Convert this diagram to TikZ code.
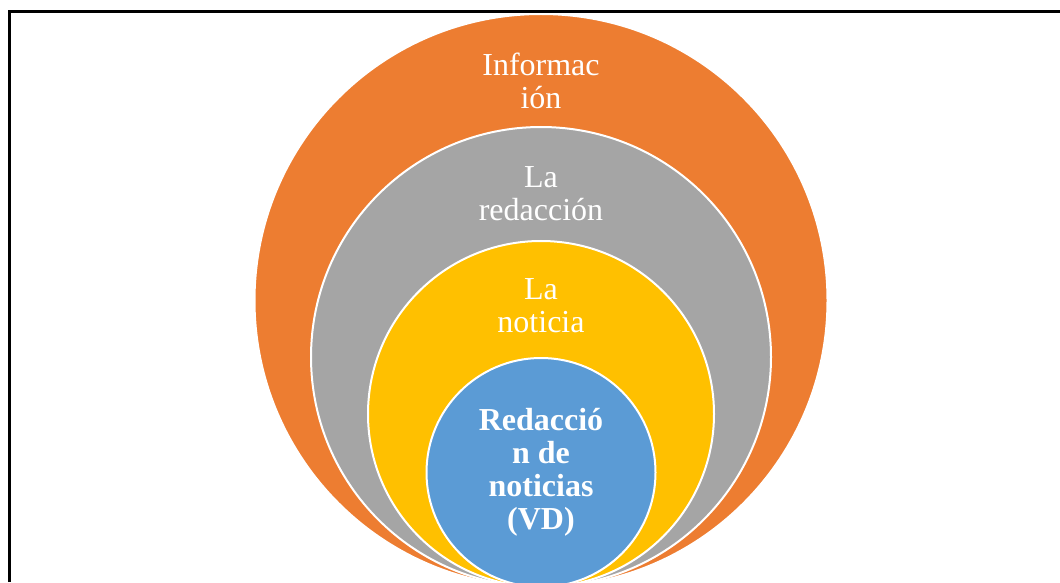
\documentclass[tikz,border=0pt]{standalone}
\usepackage{fontspec}
\setmainfont{Liberation Serif}
\usepackage{tikz}
\usetikzlibrary{positioning}
\definecolor{infoorange}{HTML}{ED7D31}
\definecolor{redacgray}{HTML}{A5A5A5}
\definecolor{noticiayellow}{HTML}{FFC000}
\definecolor{vdblue}{HTML}{5B9BD5}
\tikzset{
x=1pt, y=1pt, % one unit is one pixel of the layout
ring/.style={circle, fill=#1, draw=white, line width=2pt, inner sep=0pt, outer sep=0pt, anchor=south}, % the nested circles, all touching at the bottom
ringtext/.style={text=white, align=center, inner sep=0pt, font=\fontsize{32}{33}\selectfont}, % the label inside each circle
}

\begin{document}
\begin{tikzpicture}

            \useasboundingbox (0,0) rectangle (1060,582);
            \clip (0,0) rectangle (1060,582);
            \coordinate (bottom) at (541,-5);

            \node[ring=infoorange, minimum size=573pt] (info) at (bottom) {};
            \node[ring=redacgray, minimum size=460pt] (redac) at (bottom) {};
            \node[ring=noticiayellow, minimum size=346pt] (noticia) at (bottom) {};
            \node[ring=vdblue, minimum size=229pt] (vd) at (bottom) {};

            \node[ringtext, below=39pt of info.north] (infotext) {Informac\\ión};
            \node[ringtext, below=39pt of redac.north] (redactext) {La\\redacción};
            \node[ringtext, below=37pt of noticia.north] (noticiatext) {La\\noticia};
            \node[ringtext, font=\bfseries\fontsize{32}{33}\selectfont] (vdtext) at (vd.center) {Redacció\\n de\\noticias\\(VD)};

            % frame
            \draw[line width=3pt] (9.5,0) |- (1060,570.5);
        \end{tikzpicture}
\end{document}
